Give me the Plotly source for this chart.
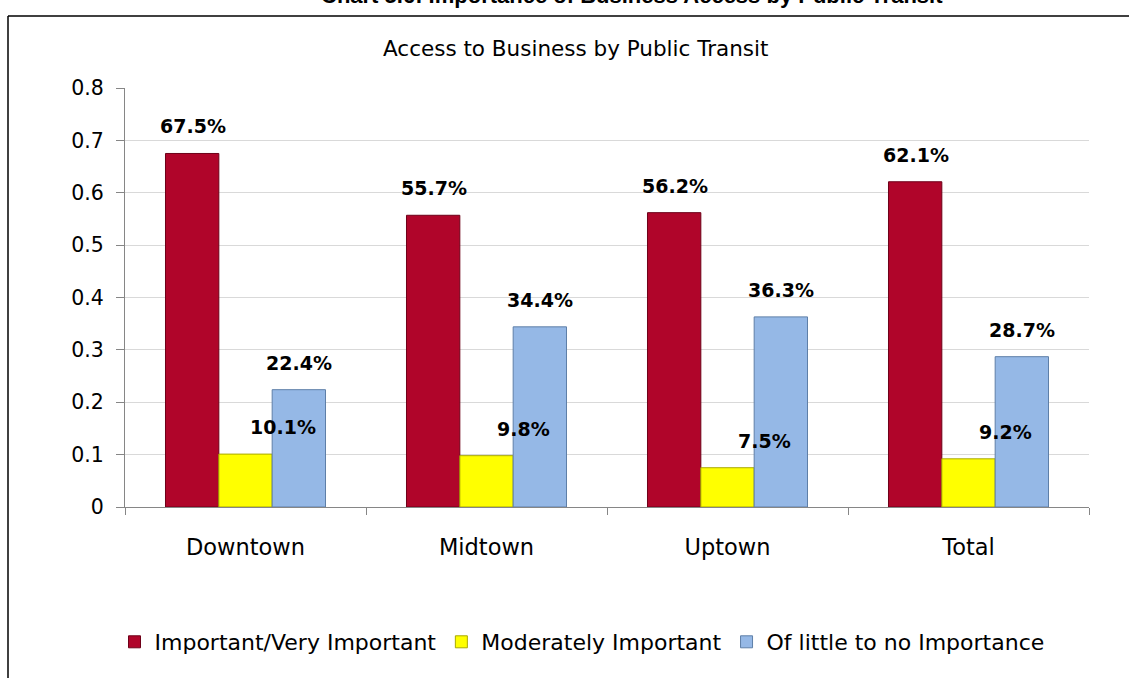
import plotly.graph_objects as go

# Survey results: share of respondents by district
categories = ["Downtown", "Midtown", "Uptown", "Total"]
important = [0.675, 0.557, 0.562, 0.621]
moderate = [0.101, 0.098, 0.075, 0.092]
little = [0.224, 0.344, 0.363, 0.287]

series_names = ["Important/Very Important", "Moderately Important", "Of little to no Importance"]
y_ticks = [0, 0.1, 0.2, 0.3, 0.4, 0.5, 0.6, 0.7, 0.8]
y_tick_labels = ["0", "0.1", "0.2", "0.3", "0.4", "0.5", "0.6", "0.7", "0.8"]

W, H = 1129, 678
L, R, T, B = 125, 40, 88, 171
pw, ph = W - L - R, H - T - B

def px_x(p):
    return (p - L) / pw

def px_y(p):
    return (H - B - p) / ph

FONT = "DejaVu Sans"
colors = ["#B0052A", "#FFFF00", "#95B8E6"]
edges = ["#6E0018", "#A8A800", "#5E7FA8"]
series = [important, moderate, little]

fig = go.Figure()
for name, vals, c, e in zip(series_names, series, colors, edges):
    fig.add_trace(go.Bar(
        x=categories, y=vals, name=name,
        marker=dict(color=c, line=dict(color=e, width=1)),
        hoverinfo="skip",
    ))

# value labels above each bar (yellow labels sit offset to the right)
bar_px = 53
label_dx = [-bar_px, 37, bar_px]
annotations = []
for vals, dx in zip(series, label_dx):
    for cat, v in zip(categories, vals):
        annotations.append(dict(
            x=cat, y=v, xref="x", yref="y", text=f"<b>{v*100:.1f}%</b>",
            showarrow=False, xshift=dx, yshift=27, yanchor="middle",
            font=dict(family=FONT, size=19, color="#000000"),
        ))

annotations.append(dict(
    x=px_x(575), y=px_y(48), xref="paper", yref="paper",
    text="Access to Business by Public Transit", showarrow=False,
    xanchor="center", yanchor="middle",
    font=dict(family=FONT, size=21.5, color="#000000"),
))
annotations.append(dict(
    x=px_x(632), y=px_y(10), xref="paper", yref="paper",
    text="<b>Chart 5.6: Importance of Business Access by Public Transit</b>",
    showarrow=False, xanchor="center", yanchor="bottom",
    font=dict(family="Liberation Sans", size=22, color="#000000"),
))

# outer chart frame (left and top edges)
shapes = [
    dict(type="line", xref="paper", yref="paper", layer="below",
         x0=px_x(8), x1=px_x(8), y0=px_y(16), y1=px_y(678),
         line=dict(color="#000000", width=1.5)),
    dict(type="line", xref="paper", yref="paper", layer="below",
         x0=px_x(8), x1=px_x(1129), y0=px_y(16), y1=px_y(16),
         line=dict(color="#000000", width=1.5)),
]

fig.update_layout(
    width=W, height=H,
    margin=dict(l=L, r=R, t=T, b=B),
    paper_bgcolor="#FFFFFF", plot_bgcolor="#FFFFFF",
    barmode="group", bargap=0.336, bargroupgap=0,
    font=dict(family=FONT, size=20, color="#000000"),
    showlegend=True,
    legend=dict(
        orientation="h", x=px_x(582), y=px_y(642),
        xanchor="center", yanchor="middle",
        font=dict(family=FONT, size=22, color="#000000"),
        itemwidth=30, traceorder="normal",
    ),
    annotations=annotations,
    shapes=shapes,
    xaxis=dict(
        showgrid=False, showline=True, linecolor="#868686", linewidth=1,
        ticks="outside", tickson="boundaries", ticklen=7, tickcolor="#868686",
        tickfont=dict(family=FONT, size=22.5),
        ticklabelstandoff=20,
        range=[-0.5, 3.5],
    ),
    yaxis=dict(
        range=[0, 0.8], tickvals=y_ticks, ticktext=y_tick_labels,
        showgrid=True, gridcolor="#D9D9D9", gridwidth=1,
        showline=True, linecolor="#868686", linewidth=1,
        ticks="outside", ticklen=8, tickcolor="#868686",
        tickfont=dict(family=FONT, size=20.5),
        ticklabelstandoff=8,
        zeroline=False,
    ),
)

fig.write_html("out.html")
